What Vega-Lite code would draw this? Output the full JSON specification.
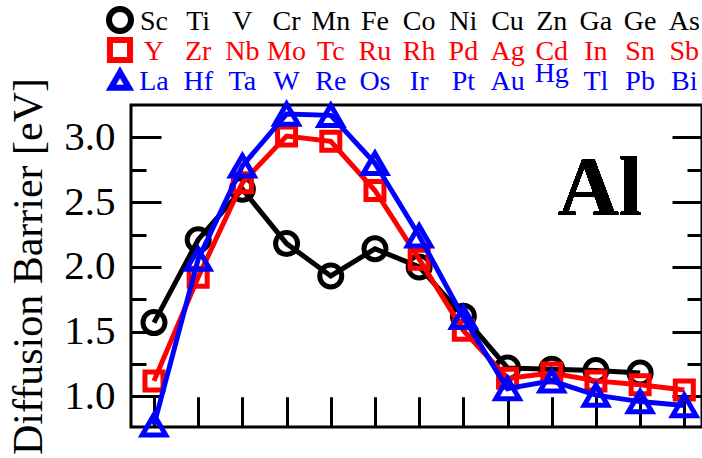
{
  "$schema": "https://vega.github.io/schema/vega-lite/v6.json",
  "width": 571,
  "height": 322,
  "autosize": {"type": "none"},
  "padding": {"left": 131, "top": 105, "right": 0, "bottom": 31},
  "background": "white",
  "config": {
    "view": {"stroke": "black", "strokeWidth": 3},
    "font": "Liberation Serif"
  },
  "data": {
    "values": [
      {"pos": 1, "series": "3d", "element": "Sc", "barrier": 1.57},
      {"pos": 2, "series": "3d", "element": "Ti", "barrier": 2.21},
      {"pos": 3, "series": "3d", "element": "V", "barrier": 2.60},
      {"pos": 4, "series": "3d", "element": "Cr", "barrier": 2.18},
      {"pos": 5, "series": "3d", "element": "Mn", "barrier": 1.93},
      {"pos": 6, "series": "3d", "element": "Fe", "barrier": 2.14},
      {"pos": 7, "series": "3d", "element": "Co", "barrier": 2.00},
      {"pos": 8, "series": "3d", "element": "Ni", "barrier": 1.62},
      {"pos": 9, "series": "3d", "element": "Cu", "barrier": 1.22},
      {"pos": 10, "series": "3d", "element": "Zn", "barrier": 1.21},
      {"pos": 11, "series": "3d", "element": "Ga", "barrier": 1.20},
      {"pos": 12, "series": "3d", "element": "Ge", "barrier": 1.18},
      {"pos": 13, "series": "3d", "element": "As", "barrier": null},
      {"pos": 1, "series": "4d", "element": "Y", "barrier": 1.12},
      {"pos": 2, "series": "4d", "element": "Zr", "barrier": 1.92},
      {"pos": 3, "series": "4d", "element": "Nb", "barrier": 2.65},
      {"pos": 4, "series": "4d", "element": "Mo", "barrier": 3.01},
      {"pos": 5, "series": "4d", "element": "Tc", "barrier": 2.97},
      {"pos": 6, "series": "4d", "element": "Ru", "barrier": 2.59},
      {"pos": 7, "series": "4d", "element": "Rh", "barrier": 2.06},
      {"pos": 8, "series": "4d", "element": "Pd", "barrier": 1.51},
      {"pos": 9, "series": "4d", "element": "Ag", "barrier": 1.14},
      {"pos": 10, "series": "4d", "element": "Cd", "barrier": 1.18},
      {"pos": 11, "series": "4d", "element": "In", "barrier": 1.12},
      {"pos": 12, "series": "4d", "element": "Sn", "barrier": 1.09},
      {"pos": 13, "series": "4d", "element": "Sb", "barrier": 1.05},
      {"pos": 1, "series": "5d", "element": "La", "barrier": 0.78},
      {"pos": 2, "series": "5d", "element": "Hf", "barrier": 2.06},
      {"pos": 3, "series": "5d", "element": "Ta", "barrier": 2.78},
      {"pos": 4, "series": "5d", "element": "W", "barrier": 3.18},
      {"pos": 5, "series": "5d", "element": "Re", "barrier": 3.17},
      {"pos": 6, "series": "5d", "element": "Os", "barrier": 2.80},
      {"pos": 7, "series": "5d", "element": "Ir", "barrier": 2.24},
      {"pos": 8, "series": "5d", "element": "Pt", "barrier": 1.61},
      {"pos": 9, "series": "5d", "element": "Au", "barrier": 1.06},
      {"pos": 10, "series": "5d", "element": "Hg", "barrier": 1.12},
      {"pos": 11, "series": "5d", "element": "Tl", "barrier": 1.01},
      {"pos": 12, "series": "5d", "element": "Pb", "barrier": 0.96},
      {"pos": 13, "series": "5d", "element": "Bi", "barrier": 0.93}
    ]
  },
  "resolve": {"scale": {"x": "independent", "y": "independent"}},
  "layer": [
    {
      "transform": [{"filter": "datum.series === '3d'"}],
      "mark": {"type": "line", "strokeWidth": 5, "color": "#000000"},
      "encoding": {
        "x": {
          "field": "pos", "type": "quantitative",
          "scale": {"domain": [0.48, 13.4], "nice": false, "zero": false},
          "axis": {"orient": "bottom", "values": [1, 2, 3, 4, 5, 6, 7, 8, 9, 10, 11, 12, 13], "ticks": true, "tickSize": 30, "offset": -30, "tickColor": "#000000", "tickWidth": 3, "tickOpacity": 1, "labels": false, "domain": false, "grid": false, "title": null}
        },
        "y": {
          "field": "barrier", "type": "quantitative",
          "scale": {"domain": [0.764, 3.25], "nice": false, "zero": false},
          "axis": {
            "orient": "left", "values": [1, 1.5, 2, 2.5, 3], "ticks": false, "tickSize": 0,
            "domain": false, "grid": false, "format": ".1f",
            "labelFont": "Liberation Serif", "labelFontSize": 41, "labelColor": "black", "labelPadding": 16,
            "title": "Diffusion Barrier [eV]",
            "titleFont": "Liberation Serif", "titleFontSize": 42, "titleFontWeight": "normal",
            "titleColor": "black", "titlePadding": 13
          }
        }
      }
    },
    {
      "transform": [{"filter": "datum.series === '3d'"}],
      "mark": {"type": "point", "shape": "circle", "size": 484, "filled": false, "strokeWidth": 5, "opacity": 1, "color": "#000000"},
      "encoding": {
        "x": {
          "field": "pos", "type": "quantitative",
          "scale": {"domain": [0.48, 13.4], "nice": false, "zero": false},
          "axis": {"orient": "top", "values": [1, 2, 3, 4, 5, 6, 7, 8, 9, 10, 11, 12, 13], "ticks": false, "labels": false, "domain": false, "title": null, "grid": true, "gridColor": "#000000", "gridWidth": 3, "gridOpacity": 1, "gridDash": [30, 2000]}
        },
        "y": {
          "field": "barrier", "type": "quantitative",
          "scale": {"domain": [0.764, 3.25], "nice": false, "zero": false},
          "axis": {"orient": "right", "values": [1, 1.5, 2, 2.5, 3], "ticks": true, "tickSize": 30, "offset": -30, "tickColor": "#000000", "tickWidth": 3, "tickOpacity": 1, "labels": false, "domain": false, "grid": false, "title": null}
        }
      }
    },
    {
      "transform": [{"filter": "datum.series === '4d'"}],
      "mark": {"type": "line", "strokeWidth": 5, "color": "#ff0000"},
      "encoding": {
        "x": {"field": "pos", "type": "quantitative", "scale": {"domain": [0.48, 13.4], "nice": false, "zero": false}, "axis": null},
        "y": {
          "field": "barrier", "type": "quantitative",
          "scale": {"domain": [0.764, 3.25], "nice": false, "zero": false},
          "axis": {"orient": "left", "values": [1.25, 1.75, 2.25, 2.75], "ticks": false, "labels": false, "domain": false, "title": null, "grid": true, "gridColor": "#000000", "gridWidth": 3, "gridOpacity": 1, "gridDash": [15, 2000]}
        }
      }
    },
    {
      "transform": [{"filter": "datum.series === '4d'"}],
      "mark": {"type": "point", "shape": "square", "size": 324, "filled": false, "strokeWidth": 5, "opacity": 1, "color": "#ff0000"},
      "encoding": {
        "x": {"field": "pos", "type": "quantitative", "scale": {"domain": [0.48, 13.4], "nice": false, "zero": false}, "axis": null},
        "y": {
          "field": "barrier", "type": "quantitative",
          "scale": {"domain": [0.764, 3.25], "nice": false, "zero": false},
          "axis": {"orient": "right", "values": [1.25, 1.75, 2.25, 2.75], "ticks": true, "tickSize": 15, "offset": -15, "tickColor": "#000000", "tickWidth": 3, "tickOpacity": 1, "labels": false, "domain": false, "grid": false, "title": null}
        }
      }
    },
    {
      "transform": [{"filter": "datum.series === '5d'"}],
      "mark": {"type": "line", "strokeWidth": 5, "color": "#0000ff"},
      "encoding": {
        "x": {"field": "pos", "type": "quantitative", "scale": {"domain": [0.48, 13.4], "nice": false, "zero": false}, "axis": null},
        "y": {
          "field": "barrier", "type": "quantitative",
          "scale": {"domain": [0.764, 3.25], "nice": false, "zero": false},
          "axis": {"orient": "left", "values": [1, 1.5, 2, 2.5, 3], "ticks": false, "labels": false, "domain": false, "title": null, "grid": true, "gridColor": "#000000", "gridWidth": 3, "gridOpacity": 1, "gridDash": [30, 2000]}
        }
      }
    },
    {
      "transform": [{"filter": "datum.series === '5d'"}],
      "mark": {"type": "point", "shape": "triangle-up", "size": 550, "filled": false, "strokeWidth": 5, "opacity": 1, "color": "#0000ff"},
      "encoding": {
        "x": {"field": "pos", "type": "quantitative", "scale": {"domain": [0.48, 13.4], "nice": false, "zero": false}, "axis": null},
        "y": {"field": "barrier", "type": "quantitative", "scale": {"domain": [0.764, 3.25], "nice": false, "zero": false}, "axis": null}
      }
    },
    {
      "mark": {"type": "text", "font": "Liberation Serif", "fontSize": 84, "fontWeight": "bold", "align": "center", "baseline": "alphabetic", "color": "black"},
      "encoding": {
        "x": {"datum": 11.09, "type": "quantitative", "scale": {"domain": [0.48, 13.4], "nice": false, "zero": false}, "axis": null},
        "y": {"datum": 2.40, "type": "quantitative", "scale": {"domain": [0.764, 3.25], "nice": false, "zero": false}, "axis": null},
        "text": {"value": "Al"}
      }
    },
    {
      "encoding": {
        "x": {"field": "pos", "type": "quantitative", "scale": {"domain": [0.48, 13.4], "nice": false, "zero": false}, "axis": null},
        "y": {
          "field": "series", "type": "nominal",
          "scale": {"type": "point", "domain": ["3d", "4d", "5d"], "range": [-75, -15], "padding": 0},
          "axis": null
        },
        "color": {
          "field": "series", "type": "nominal",
          "scale": {"domain": ["3d", "4d", "5d"], "range": ["#000000", "#ff0000", "#0000ff"]},
          "legend": null
        }
      },
      "layer": [
        {
          "transform": [{"filter": "datum.element !== 'Hg'"}],
          "mark": {"type": "text", "font": "Liberation Serif", "fontSize": 28, "align": "center", "baseline": "alphabetic"},
          "encoding": {"text": {"field": "element", "type": "nominal"}}
        },
        {
          "transform": [{"filter": "datum.element === 'Hg'"}],
          "mark": {"type": "text", "font": "Liberation Serif", "fontSize": 28, "align": "center", "baseline": "alphabetic", "dy": -8},
          "encoding": {"text": {"field": "element", "type": "nominal"}}
        },
        {
          "transform": [{"filter": "datum.pos === 1"}],
          "mark": {"type": "point", "filled": false, "strokeWidth": 6, "opacity": 1, "yOffset": -10},
          "encoding": {
            "x": {"datum": 0.231, "type": "quantitative"},
            "shape": {
              "field": "series", "type": "nominal",
              "scale": {"domain": ["3d", "4d", "5d"], "range": ["circle", "square", "triangle-up"]},
              "legend": null
            },
            "size": {
              "field": "series", "type": "nominal",
              "scale": {"domain": ["3d", "4d", "5d"], "range": [484, 324, 550]},
              "legend": null
            }
          }
        }
      ]
    }
  ]
}
